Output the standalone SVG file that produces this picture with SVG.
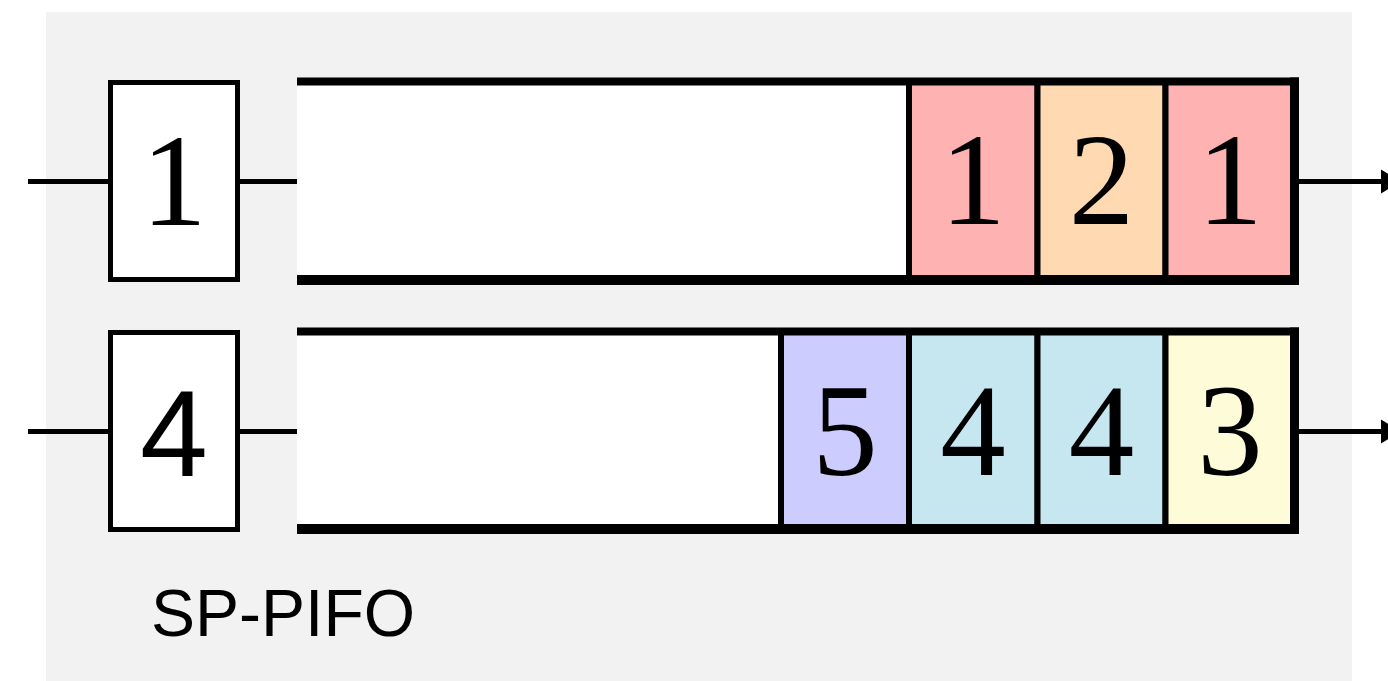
<svg xmlns="http://www.w3.org/2000/svg" width="1388" height="681" viewBox="0 0 1388 681">
<style>
.box{fill:#fff;stroke:#000;stroke-width:5}
.cell{stroke:#000;stroke-width:6}
.wire{stroke:#000;stroke-width:5;fill:none}
.frame{stroke:#000;fill:none}
.num{font-family:"Liberation Serif","Times New Roman",serif;font-size:131px;text-anchor:middle;fill:#000}
.snum{font-family:"Liberation Sans",Arial,sans-serif;font-size:122px;text-anchor:middle;fill:#000}
.lbl{font-family:"Liberation Sans",Arial,sans-serif;font-size:66px;fill:#000}
</style>
<defs>
<marker id="ah" markerUnits="userSpaceOnUse" markerWidth="24" markerHeight="26" refX="0" refY="13" orient="auto">
<polygon points="0,1 20,13 0,25" fill="#000"/>
</marker>
</defs>
<rect x="46" y="12" width="1306" height="669" fill="#f2f2f2"/>

<g id="connectors">
<line class="wire" x1="28" y1="181.5" x2="110" y2="181.5"/>
<line class="wire" x1="238" y1="181.5" x2="298" y2="181.5"/>
<line class="wire" x1="1298" y1="181.5" x2="1381" y2="181.5" marker-end="url(#ah)"/>
<line class="wire" x1="28" y1="431.5" x2="110" y2="431.5"/>
<line class="wire" x1="238" y1="431.5" x2="298" y2="431.5"/>
<line class="wire" x1="1298" y1="431.5" x2="1381" y2="431.5" marker-end="url(#ah)"/>
</g>

<g id="in1">
<rect class="box" x="110.5" y="82.5" width="127" height="197"/>
<text class="num" x="174" y="225">1</text>
</g>
<g id="in2">
<rect class="box" x="110.5" y="332.5" width="127" height="197"/>
<text class="snum" x="174" y="476">4</text>
</g>

<g id="queue1">
<rect x="297" y="82" width="612" height="198" fill="#fff"/>
<rect class="cell" x="909" y="82" width="128.5" height="198" fill="#ffb2b2"/>
<rect class="cell" x="1037.5" y="82" width="128" height="198" fill="#fed9b1"/>
<rect class="cell" x="1165.5" y="82" width="129" height="198" fill="#ffb2b2"/>
<text class="num" x="973" y="224">1</text>
<text class="num" x="1101.5" y="224">2</text>
<text class="num" x="1230" y="224">1</text>
<line class="frame" x1="297" y1="81.5" x2="1299" y2="81.5" stroke-width="8"/>
<line class="frame" x1="297" y1="280" x2="1299" y2="280" stroke-width="10"/>
<line class="frame" x1="1294.5" y1="77.5" x2="1294.5" y2="285" stroke-width="9"/>
</g>

<g id="queue2">
<rect x="297" y="332" width="484" height="198" fill="#fff"/>
<rect class="cell" x="781" y="332" width="128" height="198" fill="#ccccfe"/>
<rect class="cell" x="909" y="332" width="128.5" height="198" fill="#c7e7f0"/>
<rect class="cell" x="1037.5" y="332" width="128" height="198" fill="#c7e7f0"/>
<rect class="cell" x="1165.5" y="332" width="129" height="198" fill="#fefbd8"/>
<text class="num" x="845" y="475">5</text>
<text class="num" x="973" y="475">4</text>
<text class="num" x="1101.5" y="475">4</text>
<text class="num" x="1230" y="475">3</text>
<line class="frame" x1="297" y1="331.5" x2="1299" y2="331.5" stroke-width="8"/>
<line class="frame" x1="297" y1="529" x2="1299" y2="529" stroke-width="10"/>
<line class="frame" x1="1294.5" y1="327.5" x2="1294.5" y2="534" stroke-width="9"/>
</g>

<g id="label">
<text class="lbl" x="151" y="636">SP-PIFO</text>
</g>
</svg>
